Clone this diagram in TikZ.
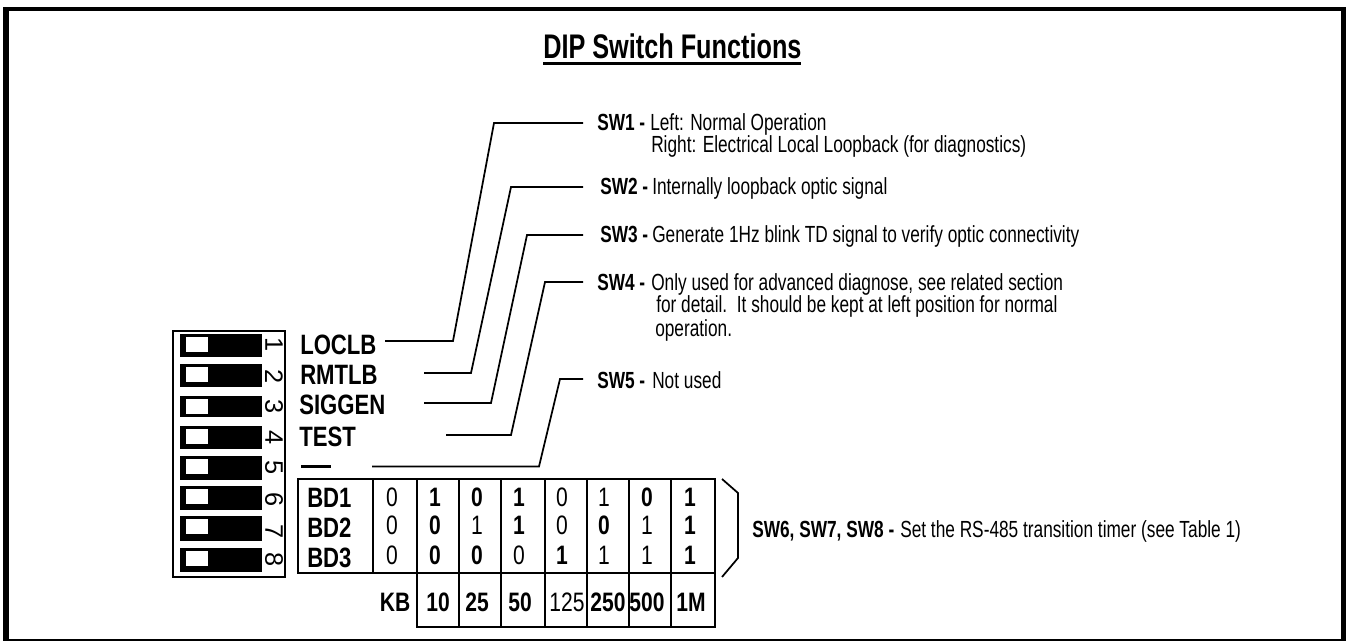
\documentclass[tikz,border=0pt]{standalone}
\usepackage{fontspec}
\setmainfont{Liberation Sans}
\newfontfamily\narrowtxt[FakeStretch=0.74]{Liberation Sans}
\newfontfamily\narrowlab[FakeStretch=0.79]{Liberation Sans}
\newcommand{\bb}[1]{\textbf{#1}}
\tikzset{
  x=0.75pt,y=-0.75pt,
  txt/.style={anchor=base west,inner sep=0pt,font=\narrowtxt\fontsize{17.5pt}{19pt}\selectfont},
  ttl/.style={anchor=base west,inner sep=0pt,font=\narrowtxt\bfseries\fontsize{25.6pt}{28pt}\selectfont},
  lab/.style={anchor=base west,inner sep=0pt,font=\narrowlab\bfseries\fontsize{21pt}{22pt}\selectfont},
  dig/.style={anchor=center,inner sep=0pt,font=\narrowlab\fontsize{20pt}{22pt}\selectfont},
  bdig/.style={anchor=center,inner sep=0pt,font=\narrowlab\bfseries\fontsize{20pt}{22pt}\selectfont},
  swn/.style={anchor=center,inner sep=0pt,rotate=-90,font=\fontsize{19pt}{20pt}\selectfont},
  conn/.style={line width=1.3pt,line join=miter},
  grid/.style={line width=1.4pt},
}
\begin{document}
\begin{tikzpicture}
\useasboundingbox (0,0) rectangle (1346,641);
% frame
\fill[black] (3,7) rectangle (1346,11);
\fill[black] (3,7) rectangle (9,641);
\fill[black] (1341,7) rectangle (1346,641);
\fill[black] (3,639) rectangle (1346,641);
% title
\node[ttl] (title) at (543,59) {DIP Switch Functions};
\fill[black] (543,62.2) rectangle (801,64.6);
% dip box
\draw[line width=1.3pt] (173,331) rectangle (285,577);
\foreach \n/\a/\b/\dy in {1/334/357/345,2/364/387/377,3/396/417/407,4/426/449/438,5/456/480/468,6/486/510/500,7/516/541/532,8/548/572/560}{
  \fill[black] (180,\a) rectangle (262,\b);
  \fill[white] (186,\a+3) rectangle (208,\a+18);
  \node[swn] (d\n) at (274,\dy) {\n};
}
% labels
\node[lab] (l1) at (300,355) {LOCLB};
\node[lab] (l2) at (300,385) {RMTLB};
\node[lab] (l3) at (299,415) {SIGGEN};
\node[lab] (l4) at (299,447) {TEST};
\fill[black] (301,465.2) rectangle (331,468);
% connectors
\coordinate (a1) at (385,341); \coordinate (b1) at (453,341); \coordinate (c1) at (494,123); \coordinate (e1) at (583,123);
\coordinate (a2) at (424,373); \coordinate (b2) at (471,373); \coordinate (c2) at (511,187); \coordinate (e2) at (583,187);
\coordinate (a3) at (424,403); \coordinate (b3) at (491,403); \coordinate (c3) at (527,235); \coordinate (e3) at (583,235);
\coordinate (a4) at (446,435); \coordinate (b4) at (511,435); \coordinate (c4) at (545,282); \coordinate (e4) at (583,282);
\coordinate (a5) at (372,466.5); \coordinate (b5) at (539,466.5); \coordinate (c5) at (560,379); \coordinate (e5) at (583,379);
\foreach \i in {1,...,5}{\draw[conn] (a\i) -- (b\i) -- (c\i) -- (e\i);}
% table
\draw[grid] (298,479) rectangle (715,573);
\draw[grid] (417,573) rectangle (715,627);
\foreach \x in {373,417,459,501,545,587,629,671}{\draw[grid] (\x,479) -- (\x,573);}
\foreach \x in {459,501,545,587,629,671}{\draw[grid] (\x,573) -- (\x,627);}
\node[lab] (bd1) at (307,507) {BD1};
\node[lab] (bd2) at (307,537) {BD2};
\node[lab] (bd3) at (307,567) {BD3};
% digits
\foreach \x/\s/\v/\r in {392/dig/0/497,392/dig/0/525,392/dig/0/555,
  435/bdig/1/497,435/bdig/0/525,435/bdig/0/555,
  477/bdig/0/497,477/dig/1/525,477/bdig/0/555,
  519/bdig/1/497,519/bdig/1/525,519/dig/0/555,
  562/dig/0/497,562/dig/0/525,562/bdig/1/555,
  604/dig/1/497,604/bdig/0/525,604/dig/1/555,
  647/bdig/0/497,647/dig/1/525,647/dig/1/555,
  690/bdig/1/497,690/bdig/1/525,690/bdig/1/555}{
  \node[\s] at (\x,\r) {\v};
}
\foreach \x/\s/\v in {395/bdig/KB,438/bdig/10,477/bdig/25,520/bdig/50,567/dig/125,608/bdig/250,647/bdig/500,691/bdig/1M}{
  \node[\s] at (\x,602) {\v};
}
% brace
\draw[conn] (722,479) -- (738,493) -- (738,558) -- (722,577);
% texts
\node[txt] (s1) at (597,131) {\bb{SW1 -}};
\node[txt] (t1) at (650,131) {Left: Normal Operation};
\node[txt] (t1b) at (651,153) {Right: Electrical Local Loopback (for diagnostics)};
\node[txt] (s2) at (600,195) {\bb{SW2 -}};
\node[txt] (t2) at (652,195) {Internally loopback optic signal};
\node[txt] (s3) at (600,243) {\bb{SW3 -}};
\node[txt] (t3) at (652,243) {Generate 1Hz blink TD signal to verify optic connectivity};
\node[txt] (s4) at (597,291) {\bb{SW4 -}};
\node[txt] (t4) at (651,291) {Only used for advanced diagnose, see related section};
\node[txt] (t4b) at (656,313) {for detail.\ \ It should be kept at left position for normal};
\node[txt] (t4c) at (655,337) {operation.};
\node[txt] (s5) at (597,389) {\bb{SW5 -}};
\node[txt] (t5) at (652,389) {Not used};
\node[txt] (s6) at (752,537) {\bb{SW6, SW7, SW8 -}};
\node[txt] (t6) at (900,537) {Set the RS-485 transition timer (see Table 1)};
\end{tikzpicture}
\end{document}
